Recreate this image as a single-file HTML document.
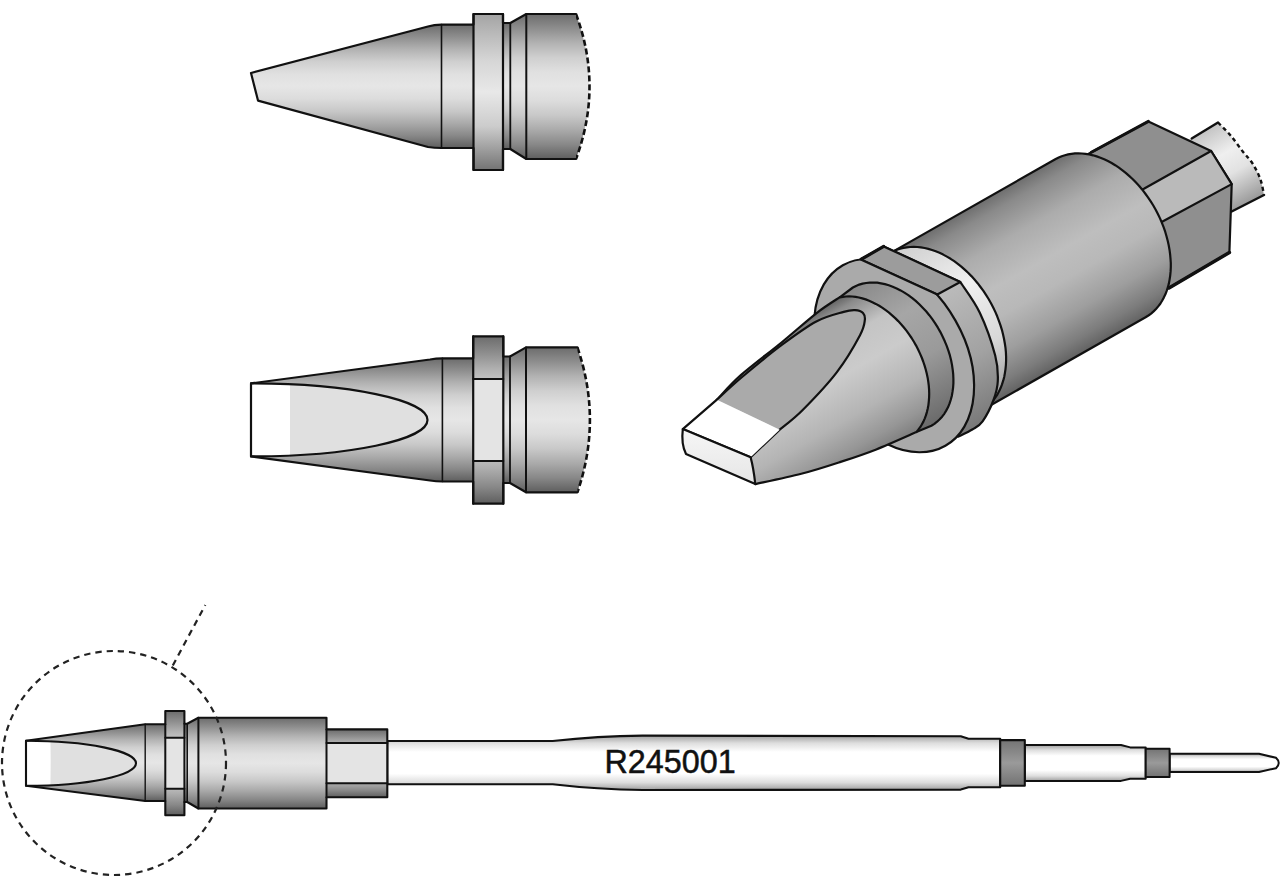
<!DOCTYPE html>
<html><head><meta charset="utf-8"><style>html,body{margin:0;padding:0;background:#fff;overflow:hidden}svg{display:block}</style></head>
<body><svg width="1280" height="877" viewBox="0 0 1280 877"><defs>
<linearGradient id="cyl" x1="0" y1="0" x2="0" y2="1">
 <stop offset="0" stop-color="#6c6c6c"/><stop offset="0.1" stop-color="#8e8e8e"/>
 <stop offset="0.2" stop-color="#b2b2b2"/><stop offset="0.3" stop-color="#cfcfcf"/>
 <stop offset="0.4" stop-color="#e0e0e0"/><stop offset="0.5" stop-color="#e6e6e6"/>
 <stop offset="0.6" stop-color="#dcdcdc"/><stop offset="0.7" stop-color="#c8c8c8"/>
 <stop offset="0.8" stop-color="#aaaaaa"/><stop offset="0.9" stop-color="#888888"/>
 <stop offset="1" stop-color="#5e5e5e"/></linearGradient>
<linearGradient id="fla" x1="0" y1="0" x2="0" y2="1">
 <stop offset="0" stop-color="#a4a4a4"/><stop offset="0.3" stop-color="#d6d6d6"/>
 <stop offset="0.5" stop-color="#e8e8e8"/><stop offset="0.72" stop-color="#cccccc"/>
 <stop offset="1" stop-color="#747474"/></linearGradient>
<linearGradient id="shaft" x1="0" y1="0" x2="0" y2="1">
 <stop offset="0" stop-color="#a0a0a0"/><stop offset="0.14" stop-color="#dedede"/>
 <stop offset="0.3" stop-color="#fff"/><stop offset="0.7" stop-color="#fff"/>
 <stop offset="0.86" stop-color="#dedede"/><stop offset="1" stop-color="#a0a0a0"/></linearGradient>
<linearGradient id="band" x1="0" y1="0" x2="0" y2="1">
 <stop offset="0" stop-color="#747474"/><stop offset="0.5" stop-color="#9a9a9a"/>
 <stop offset="1" stop-color="#727272"/></linearGradient>
<linearGradient id="g_rs" gradientUnits="userSpaceOnUse" x1="1202.2" y1="132.2" x2="1243.7" y2="205.2"><stop offset="0" stop-color="#c4c4c4"/><stop offset="0.35" stop-color="#efefef"/><stop offset="0.6" stop-color="#e2e2e2"/><stop offset="1" stop-color="#9a9a9a"/></linearGradient><linearGradient id="g_sl" gradientUnits="userSpaceOnUse" x1="978" y1="203.2" x2="1067.9" y2="361.4"><stop offset="0" stop-color="#6e6e6e"/><stop offset="0.08" stop-color="#8a8a8a"/><stop offset="0.25" stop-color="#acacac"/><stop offset="0.45" stop-color="#bebebe"/><stop offset="0.6" stop-color="#b8b8b8"/><stop offset="0.78" stop-color="#9e9e9e"/><stop offset="0.92" stop-color="#7c7c7c"/><stop offset="1" stop-color="#626262"/></linearGradient><linearGradient id="g_wa" gradientUnits="userSpaceOnUse" x1="891.1" y1="252.6" x2="980.9" y2="410.8"><stop offset="0" stop-color="#cfcfcf"/><stop offset="0.35" stop-color="#f0f0f0"/><stop offset="0.7" stop-color="#d8d8d8"/><stop offset="1" stop-color="#9a9a9a"/></linearGradient><linearGradient id="g_nut" gradientUnits="userSpaceOnUse" x1="860.5" y1="259.6" x2="959.3" y2="433.5"><stop offset="0" stop-color="#c4c4c4"/><stop offset="0.35" stop-color="#bababa"/><stop offset="0.7" stop-color="#a2a2a2"/><stop offset="1" stop-color="#7a7a7a"/></linearGradient><clipPath id="cl_fl"><polygon points="700,185.9 1100,369 1100,600 700,600"/></clipPath><linearGradient id="g_col" gradientUnits="userSpaceOnUse" x1="844.6" y1="292.2" x2="923.1" y2="430.5"><stop offset="0" stop-color="#8a8a8a"/><stop offset="0.3" stop-color="#a6a6a6"/><stop offset="0.6" stop-color="#9a9a9a"/><stop offset="1" stop-color="#6a6a6a"/></linearGradient><linearGradient id="g_cone" gradientUnits="userSpaceOnUse" x1="766.1" y1="336.2" x2="845.1" y2="475.4"><stop offset="0" stop-color="#5a5a5a"/><stop offset="0.08" stop-color="#8c8c8c"/><stop offset="0.25" stop-color="#c4c4c4"/><stop offset="0.45" stop-color="#cbcbcb"/><stop offset="0.7" stop-color="#b4b4b4"/><stop offset="0.88" stop-color="#969696"/><stop offset="1" stop-color="#7a7a7a"/></linearGradient><linearGradient id="g_ff" x1="0" y1="0" x2="0" y2="1"><stop offset="0" stop-color="#f6f6f6"/><stop offset="1" stop-color="#e6e6e6"/></linearGradient></defs>
<rect width="1280" height="877" fill="#fff"/>
<path d="M251,73 L428,26.5 Q434,24.8 441.5,24.6 L441.5,148 Q434,147.8 428,147 L258,100.6 Z" fill="url(#cyl)" stroke="none" />
<path d="M441.5,24.6 L473.5,24.6 L473.5,148 L441.5,148 Z" fill="url(#cyl)" stroke="none" />
<path d="M556,14 L576,14 Q603,86.5 576,159 L556,159 Z" fill="url(#cyl)" stroke="none" />
<path d="M576,14 Q603,86.5 576,159" fill="none" stroke="#111" stroke-linejoin="round" stroke-linecap="butt" stroke-width="2.6" stroke-dasharray="6 3"/>
<path d="M526.3,14 L576,14 L576,159 L526.3,159 Z" fill="url(#cyl)" stroke="none" />
<path d="M510.3,23 L526.3,14 L526.3,159 L510.3,149 Z" fill="url(#cyl)" stroke="none" />
<path d="M503,23 L510.3,23 L510.3,149 L503,149 Z" fill="url(#cyl)" stroke="none" />
<path d="M473.5,14 L503,14 L503,170 L473.5,170 Z" fill="url(#fla)" stroke="none" />
<path d="M576,14 L526.3,14 L510.3,23 L503,23 L503,14 L473.5,14 L473.5,24.6 L441.5,24.6 Q434,24.8 428,26.5 L251,73 L258,100.6 L428,147 Q434,147.8 441.5,148 L473.5,148 L473.5,170 L503,170 L503,149 L510.3,149 L526.3,159 L576,159" fill="none" stroke="#111" stroke-linejoin="round" stroke-linecap="round" stroke-width="2.2" />
<path d="M441.5,24.6 L441.5,148" fill="none" stroke="#111" stroke-linejoin="round" stroke-linecap="round" stroke-width="1.6" />
<path d="M473.5,14 L473.5,170" fill="none" stroke="#111" stroke-linejoin="round" stroke-linecap="round" stroke-width="2.2" />
<path d="M503,14 L503,170" fill="none" stroke="#111" stroke-linejoin="round" stroke-linecap="round" stroke-width="2.2" />
<path d="M510.3,23 L510.3,149" fill="none" stroke="#111" stroke-linejoin="round" stroke-linecap="round" stroke-width="1.8" />
<path d="M526.3,14 L526.3,159" fill="none" stroke="#111" stroke-linejoin="round" stroke-linecap="round" stroke-width="2" />
<path d="M251,383.4 L430,359.5 Q436,358.4 442.4,358.3 L442.4,481.5 Q436,481.4 430,480.5 L251,456.4 Z" fill="url(#cyl)" stroke="none" />
<path d="M251,383.4 L290,383.4 L290,456.4 L251,456.4 Z" fill="#fff" stroke="none" />
<path d="M290,383.4 L290,456.4 L251,456.4 A176.5,36.5 0 0 0 427.5,419.9 A176.5,36.5 0 0 0 251,383.4 Z" fill="#e0e0e0" stroke="none" />
<path d="M251,456.4 A176.5,36.5 0 0 0 427.5,419.9 A176.5,36.5 0 0 0 251,383.4" fill="none" stroke="#111" stroke-linejoin="round" stroke-linecap="round" stroke-width="2.2" />
<path d="M442.4,358.3 L473.2,358.3 L473.2,481.5 L442.4,481.5 Z" fill="url(#cyl)" stroke="none" />
<path d="M557.4,347.4 L577.4,347.4 Q602.4,419.9 577.4,492.3 L557.4,492.3 Z" fill="url(#cyl)" stroke="none" />
<path d="M577.4,347.4 Q602.4,419.9 577.4,492.3" fill="none" stroke="#111" stroke-linejoin="round" stroke-linecap="butt" stroke-width="2.6" stroke-dasharray="6 3"/>
<path d="M526,347.4 L577.4,347.4 L577.4,492.3 L526,492.3 Z" fill="url(#cyl)" stroke="none" />
<path d="M510,356.5 L526,347.4 L526,492.3 L510,483 Z" fill="url(#cyl)" stroke="none" />
<path d="M503.3,356.5 L510,356.5 L510,483 L503.3,483 Z" fill="url(#cyl)" stroke="none" />
<path d="M473.2,336.4 L503.3,336.4 L503.3,503.7 L473.2,503.7 Z" fill="url(#cyl)" stroke="none" />
<path d="M473.2,378.9 L503.3,378.9 L503.3,461 L473.2,461 Z" fill="#e4e4e4" stroke="none" />
<path d="M577.4,347.4 L526,347.4 L510,356.5 L503.3,356.5 L503.3,336.4 L473.2,336.4 L473.2,358.3 L442.4,358.3 Q436,358.4 430,359.5 L251,383.4 L251,456.4 L430,480.5 Q436,481.4 442.4,481.5 L473.2,481.5 L473.2,503.7 L503.3,503.7 L503.3,483 L510,483 L526,492.3 L577.4,492.3" fill="none" stroke="#111" stroke-linejoin="round" stroke-linecap="round" stroke-width="2.2" />
<path d="M442.4,358.3 L442.4,481.5" fill="none" stroke="#111" stroke-linejoin="round" stroke-linecap="round" stroke-width="1.6" />
<path d="M473.2,336.4 L473.2,503.7" fill="none" stroke="#111" stroke-linejoin="round" stroke-linecap="round" stroke-width="2.2" />
<path d="M503.3,336.4 L503.3,503.7" fill="none" stroke="#111" stroke-linejoin="round" stroke-linecap="round" stroke-width="2.2" />
<path d="M510,356.5 L510,483" fill="none" stroke="#111" stroke-linejoin="round" stroke-linecap="round" stroke-width="1.8" />
<path d="M526,347.4 L526,492.3" fill="none" stroke="#111" stroke-linejoin="round" stroke-linecap="round" stroke-width="2" />
<path d="M473.2,378.9 L503.3,378.9" fill="none" stroke="#111" stroke-linejoin="round" stroke-linecap="round" stroke-width="2" />
<path d="M473.2,461 L503.3,461" fill="none" stroke="#111" stroke-linejoin="round" stroke-linecap="round" stroke-width="2" />
<path d="M387.3,741 L552.7,741 Q598,736 642.5,735.6 L960.8,736.2 L968.5,738.7 L1000.2,738.7 L1000.2,787.2 L968.5,787.2 L960.8,789.6 L642.5,790 Q598,789.6 552.7,784.3 L387.3,784.3 Z" fill="url(#shaft)" stroke="#111" stroke-linejoin="round" stroke-linecap="round" stroke-width="2.1" />
<path d="M1024.8,745 L1121,745 L1130.2,747.4 L1145.7,747.4 L1145.7,778.8 L1130.2,778.8 L1121,780.9 L1024.8,780.9 Z" fill="url(#shaft)" stroke="#111" stroke-linejoin="round" stroke-linecap="round" stroke-width="2" />
<rect x="1000.2" y="740.1" width="24.6" height="45.7" fill="url(#band)" stroke="#111" stroke-linejoin="round" stroke-linecap="round" stroke-width="2.1"/>
<path d="M1169.6,753.8 L1259,753.8 L1276,757.8 Q1281.5,763 1276,768.2 L1259,772 L1169.6,772 Z" fill="url(#shaft)" stroke="#111" stroke-linejoin="round" stroke-linecap="round" stroke-width="2" />
<rect x="1145.7" y="748.8" width="23.9" height="28.2" fill="url(#band)" stroke="#111" stroke-linejoin="round" stroke-linecap="round" stroke-width="2"/>
<text x="604.5" y="773" font-family="Liberation Sans, sans-serif" font-size="32.3" fill="#111" stroke="#111" stroke-width="0.5">R245001</text>
<path d="M326.5,729.4 L387.3,729.4 L387.3,797.3 L326.5,797.3 Z" fill="url(#cyl)" stroke="none" />
<path d="M326.5,742.9 L387.3,742.9 L387.3,783.2 L326.5,783.2 Z" fill="#e4e4e4" stroke="none" />
<path d="M198.4,717.8 L326.5,717.8 L326.5,808.5 L198.4,808.5 Z" fill="url(#cyl)" stroke="none" />
<path d="M187.2,723.8 L198.4,717.8 L198.4,808.5 L187.2,802 Z" fill="url(#cyl)" stroke="none" />
<path d="M184.4,723.8 L187.2,723.8 L187.2,802 L184.4,802 Z" fill="url(#cyl)" stroke="none" />
<path d="M26,740.8 L145.2,724.3 L145.2,801 L26,785.8 Z" fill="url(#cyl)" stroke="none" />
<path d="M26,740.8 L50.8,740.8 L50.8,785.8 L26,785.8 Z" fill="#fff" stroke="none" />
<path d="M50.8,740.8 L50.8,785.8 L26,785.8 A110,22.5 0 0 0 136,763.3 A110,22.5 0 0 0 26,740.8 Z" fill="#e0e0e0" stroke="none" />
<path d="M145.2,724.3 L165.3,724.3 L165.3,801 L145.2,801 Z" fill="url(#cyl)" stroke="none" />
<path d="M165.3,711 L184.4,711 L184.4,815.3 L165.3,815.3 Z" fill="url(#cyl)" stroke="none" />
<path d="M165.3,737.8 L184.4,737.8 L184.4,788.8 L165.3,788.8 Z" fill="#e4e4e4" stroke="none" />
<path d="M387.3,729.4 L326.5,729.4 L326.5,717.8 L198.4,717.8 L187.2,723.8 L184.4,723.8 L184.4,711 L165.3,711 L165.3,724.3 L145.2,724.3 L26,740.8 L26,785.8 L145.2,801 L165.3,801 L165.3,815.3 L184.4,815.3 L184.4,802 L187.2,802 L198.4,808.5 L326.5,808.5 L326.5,797.3 L387.3,797.3 Z" fill="none" stroke="#111" stroke-linejoin="round" stroke-linecap="round" stroke-width="2.1" />
<path d="M26,785.8 A110,22.5 0 0 0 136,763.3 A110,22.5 0 0 0 26,740.8" fill="none" stroke="#111" stroke-linejoin="round" stroke-linecap="round" stroke-width="2.1" />
<path d="M145.2,724.3 L145.2,801" fill="none" stroke="#111" stroke-linejoin="round" stroke-linecap="round" stroke-width="1.4" />
<path d="M165.3,724.3 L165.3,801" fill="none" stroke="#111" stroke-linejoin="round" stroke-linecap="round" stroke-width="2" />
<path d="M184.4,723.8 L184.4,802" fill="none" stroke="#111" stroke-linejoin="round" stroke-linecap="round" stroke-width="2" />
<path d="M187.2,723.8 L187.2,802" fill="none" stroke="#111" stroke-linejoin="round" stroke-linecap="round" stroke-width="1.6" />
<path d="M198.4,717.8 L198.4,808.5" fill="none" stroke="#111" stroke-linejoin="round" stroke-linecap="round" stroke-width="2" />
<path d="M326.5,729.4 L326.5,797.3" fill="none" stroke="#111" stroke-linejoin="round" stroke-linecap="round" stroke-width="2" />
<path d="M165.3,737.8 L184.4,737.8" fill="none" stroke="#111" stroke-linejoin="round" stroke-linecap="round" stroke-width="2" />
<path d="M165.3,788.8 L184.4,788.8" fill="none" stroke="#111" stroke-linejoin="round" stroke-linecap="round" stroke-width="2" />
<path d="M326.5,742.9 L387.3,742.9" fill="none" stroke="#111" stroke-linejoin="round" stroke-linecap="round" stroke-width="2" />
<path d="M326.5,783.2 L387.3,783.2" fill="none" stroke="#111" stroke-linejoin="round" stroke-linecap="round" stroke-width="2" />
<circle cx="114" cy="763" r="112" fill="none" stroke="#222" stroke-width="2.2" stroke-dasharray="6.3 5"/>
<line x1="172.8" y1="665.5" x2="205.3" y2="605" stroke="#222" stroke-width="2.2" stroke-dasharray="6.3 5"/>
<path d="M1150,160 L1191.7,138.5 L1218,122.5 C1220,124.6 1226.1,130.2 1230.2,135 C1234.3,139.8 1238.9,146.6 1242.7,151.4 C1246.5,156.2 1249.9,159.3 1252.8,163.9 C1255.7,168.5 1258.4,173.8 1260.3,179 C1262.2,184.2 1263.4,192.3 1264,195 L1231.7,211.5 L1180,240 Z" fill="url(#g_rs)" stroke="none" />
<path d="M1191.7,138.5 L1218,122.5" fill="none" stroke="#111" stroke-linejoin="round" stroke-linecap="round" stroke-width="2.4" />
<path d="M1264,195 L1231.7,211.5" fill="none" stroke="#111" stroke-linejoin="round" stroke-linecap="round" stroke-width="2.4" />
<path d="M1218,122.5 C1220,124.6 1226.1,130.2 1230.2,135 C1234.3,139.8 1238.9,146.6 1242.7,151.4 C1246.5,156.2 1249.9,159.3 1252.8,163.9 C1255.7,168.5 1258.4,173.8 1260.3,179 C1262.2,184.2 1263.4,192.3 1264,195 " fill="none" stroke="#111" stroke-linejoin="round" stroke-linecap="butt" stroke-width="2.4" stroke-dasharray="4 3.2"/>
<polygon points="1060,170 1091.4,152.2 1148.4,121.4 1211.1,151 1231.7,184.1 1229.4,252.5 1169,288 1080,300" fill="#8f8f8f" stroke="#111" stroke-linejoin="round" stroke-linecap="round" stroke-width="2.2" />
<polygon points="1211.1,151 1231.7,184.1 1162.1,221.7 1100,256 1080,220 1143.9,188.7" fill="#bababa" stroke="#111" stroke-linejoin="round" stroke-linecap="round" stroke-width="2.2" />
<path d="M1229.4,252.5 L1169,288" fill="none" stroke="#111" stroke-linejoin="round" stroke-linecap="round" stroke-width="3.5" />
<path d="M1091.4,152.2 L1148.4,121.4" fill="none" stroke="#111" stroke-linejoin="round" stroke-linecap="round" stroke-width="3" />
<path d="M891.1,252.6 L1055.7,159 L1058.7,157.5 L1061.7,156.2 L1064.9,155.2 L1068.1,154.4 L1071.5,153.8 L1074.9,153.4 L1078.4,153.3 L1082,153.5 L1085.6,153.8 L1089.3,154.5 L1093,155.3 L1096.7,156.4 L1100.4,157.7 L1104.2,159.3 L1107.9,161 L1111.6,163 L1115.2,165.2 L1118.9,167.7 L1122.5,170.3 L1126,173.1 L1129.4,176.1 L1132.8,179.2 L1136,182.6 L1139.2,186 L1142.3,189.7 L1145.2,193.5 L1148,197.4 L1150.7,201.4 L1153.3,205.5 L1155.7,209.7 L1157.9,214 L1160,218.4 L1161.9,222.8 L1163.6,227.2 L1165.2,231.7 L1166.5,236.2 L1167.7,240.8 L1168.7,245.3 L1169.5,249.7 L1170.1,254.2 L1170.5,258.6 L1170.8,263 L1170.8,267.2 L1170.6,271.4 L1170.2,275.6 L1169.6,279.6 L1168.9,283.4 L1167.9,287.2 L1166.7,290.8 L1165.4,294.3 L1163.8,297.6 L1162.1,300.7 L1160.3,303.7 L1158.2,306.4 L1156,309 L1153.6,311.4 L1151.1,313.6 L1148.4,315.5 L1145.6,317.3 L980.9,410.8 L978,412.3 L975,413.6 L971.8,414.7 L968.6,415.5 L965.2,416.1 L961.8,416.4 L958.3,416.5 L954.7,416.4 L951.1,416 L947.4,415.4 L943.7,414.5 L940,413.4 L936.3,412.1 L932.5,410.6 L928.8,408.8 L925.1,406.8 L921.4,404.6 L917.8,402.2 L914.2,399.6 L910.7,396.8 L907.3,393.8 L903.9,390.6 L900.6,387.3 L897.5,383.8 L894.4,380.2 L891.5,376.4 L888.6,372.5 L886,368.5 L883.4,364.4 L881,360.1 L878.8,355.9 L876.7,351.5 L874.8,347.1 L873.1,342.6 L871.5,338.1 L870.1,333.6 L869,329.1 L868,324.6 L867.2,320.1 L866.5,315.6 L866.1,311.2 L865.9,306.9 L865.9,302.6 L866.1,298.4 L866.5,294.3 L867.1,290.3 L867.8,286.4 L868.8,282.7 L870,279 L871.3,275.6 L872.8,272.3 L874.5,269.1 L876.4,266.2 L878.5,263.4 L880.7,260.8 L883.1,258.4 L885.6,256.3 L888.3,254.3 L891.1,252.6 Z" fill="url(#g_sl)" stroke="none" />
<path d="M891.1,252.6 L1055.7,159 L1055.7,159 L1058.7,157.5 L1061.7,156.2 L1064.9,155.2 L1068.1,154.4 L1071.5,153.8 L1074.9,153.4 L1078.4,153.3 L1082,153.5 L1085.6,153.8 L1089.3,154.5 L1093,155.3 L1096.7,156.4 L1100.4,157.7 L1104.2,159.3 L1107.9,161 L1111.6,163 L1115.2,165.2 L1118.9,167.7 L1122.5,170.3 L1126,173.1 L1129.4,176.1 L1132.8,179.2 L1136,182.6 L1139.2,186 L1142.3,189.7 L1145.2,193.5 L1148,197.4 L1150.7,201.4 L1153.3,205.5 L1155.7,209.7 L1157.9,214 L1160,218.4 L1161.9,222.8 L1163.6,227.2 L1165.2,231.7 L1166.5,236.2 L1167.7,240.8 L1168.7,245.3 L1169.5,249.7 L1170.1,254.2 L1170.5,258.6 L1170.8,263 L1170.8,267.2 L1170.6,271.4 L1170.2,275.6 L1169.6,279.6 L1168.9,283.4 L1167.9,287.2 L1166.7,290.8 L1165.4,294.3 L1163.8,297.6 L1162.1,300.7 L1160.3,303.7 L1158.2,306.4 L1156,309 L1153.6,311.4 L1151.1,313.6 L1148.4,315.5 L1145.6,317.3 L980.9,410.8" fill="none" stroke="#111" stroke-linejoin="round" stroke-linecap="round" stroke-width="2.2" />
<path d="M878.9,259.5 L891.1,252.6 L894,251.1 L897,249.8 L900.2,248.7 L903.4,247.9 L906.8,247.3 L910.2,247 L913.7,246.9 L917.3,247 L920.9,247.4 L924.6,248 L928.3,248.9 L932,250 L935.7,251.3 L939.5,252.8 L943.2,254.6 L946.9,256.6 L950.6,258.8 L954.2,261.2 L957.8,263.8 L961.3,266.6 L964.7,269.6 L968.1,272.8 L971.4,276.1 L974.5,279.6 L977.6,283.2 L980.5,287 L983.4,290.9 L986,294.9 L988.6,299 L991,303.3 L993.2,307.5 L995.3,311.9 L997.2,316.3 L998.9,320.8 L1000.5,325.3 L1001.9,329.8 L1003,334.3 L1004,338.8 L1004.8,343.3 L1005.5,347.8 L1005.9,352.2 L1006.1,356.5 L1006.1,360.8 L1005.9,365 L1005.5,369.1 L1004.9,373.1 L1004.2,377 L1003.2,380.7 L1002,384.4 L1000.7,387.8 L999.2,391.1 L997.5,394.3 L995.6,397.2 L993.5,400 L991.3,402.6 L988.9,405 L986.4,407.1 L983.7,409.1 L980.9,410.8 L968.8,417.7 L965.8,419.3 L962.8,420.5 L959.6,421.6 L956.4,422.4 L953,423 L949.6,423.3 L946.1,423.4 L942.5,423.3 L938.9,422.9 L935.2,422.3 L931.5,421.4 L927.8,420.4 L924.1,419 L920.4,417.5 L916.6,415.7 L912.9,413.7 L909.3,411.5 L905.6,409.1 L902.1,406.5 L898.5,403.7 L895.1,400.7 L891.7,397.5 L888.5,394.2 L885.3,390.7 L882.2,387.1 L879.3,383.3 L876.5,379.4 L873.8,375.4 L871.2,371.3 L868.8,367.1 L866.6,362.8 L864.5,358.4 L862.6,354 L860.9,349.5 L859.3,345 L858,340.5 L856.8,336 L855.8,331.5 L855,327 L854.4,322.6 L854,318.1 L853.8,313.8 L853.7,309.5 L853.9,305.3 L854.3,301.2 L854.9,297.2 L855.7,293.3 L856.6,289.6 L857.8,286 L859.1,282.5 L860.7,279.2 L862.4,276.1 L864.3,273.1 L866.3,270.3 L868.5,267.7 L870.9,265.4 L873.4,263.2 L876.1,261.2 L878.9,259.5 Z" fill="url(#g_wa)" stroke="none" />
<path d="M891.1,252.6 L894,251.1 L897,249.8 L900.2,248.7 L903.4,247.9 L906.8,247.3 L910.2,247 L913.7,246.9 L917.3,247 L920.9,247.4 L924.6,248 L928.3,248.9 L932,250 L935.7,251.3 L939.5,252.8 L943.2,254.6 L946.9,256.6 L950.6,258.8 L954.2,261.2 L957.8,263.8 L961.3,266.6 L964.7,269.6 L968.1,272.8 L971.4,276.1 L974.5,279.6 L977.6,283.2 L980.5,287 L983.4,290.9 L986,294.9 L988.6,299 L991,303.3 L993.2,307.5 L995.3,311.9 L997.2,316.3 L998.9,320.8 L1000.5,325.3 L1001.9,329.8 L1003,334.3 L1004,338.8 L1004.8,343.3 L1005.5,347.8 L1005.9,352.2 L1006.1,356.5 L1006.1,360.8 L1005.9,365 L1005.5,369.1 L1004.9,373.1 L1004.2,377 L1003.2,380.7 L1002,384.4 L1000.7,387.8 L999.2,391.1 L997.5,394.3 L995.6,397.2 L993.5,400 L991.3,402.6 L988.9,405 L986.4,407.1 L983.7,409.1 L980.9,410.8" fill="none" stroke="#111" stroke-linejoin="round" stroke-linecap="round" stroke-width="2.2" />
<path d="M860.8,259.5 L883.7,246.4 L960.3,282 C963.5,287.1 974,300.4 979.8,312.7 C985.6,324.9 992.2,344.1 995.2,355.5 C998.2,366.9 998.1,373.6 997.8,381 C997.5,388.4 996,393.3 993.5,400 C991,406.7 986.1,416.4 982.6,421.3 C979.1,426.2 976.4,426.9 972.3,429.5 C968.2,432.1 960.4,435.5 958,436.7  L894,355.5 Z" fill="url(#g_nut)" stroke="#111" stroke-linejoin="round" stroke-linecap="round" stroke-width="2.2" />
<polygon points="860.8,259.5 883.7,246.4 960.3,282 937.3,294.5" fill="#9c9c9c" stroke="#111" stroke-linejoin="round" stroke-linecap="round" stroke-width="2.2" />
<path d="M860.8,259.5 L883.7,246.4" fill="none" stroke="#111" stroke-linejoin="round" stroke-linecap="round" stroke-width="3.2" />
<g clip-path="url(#cl_fl)"><ellipse cx="894.1" cy="355.5" rx="70.6" ry="103.8" transform="rotate(-29.6 894.1 355.5)" fill="#aaaaaa" stroke="#111" stroke-linejoin="round" stroke-linecap="round" stroke-width="2.2"/></g>
<path d="M860.8,259.5 L937.3,294.5" fill="none" stroke="#111" stroke-linejoin="round" stroke-linecap="round" stroke-width="2.2" />
<path d="M839.7,297.3 L852.9,287.5 L856,285.9 L859.2,284.6 L862.6,283.6 L866.1,283 L869.7,282.6 L873.4,282.5 L877.2,282.7 L881,283.3 L884.9,284.1 L888.8,285.2 L892.7,286.7 L896.7,288.4 L900.6,290.4 L904.4,292.6 L908.3,295.1 L912,297.9 L915.7,300.9 L919.3,304.2 L922.7,307.7 L926.1,311.3 L929.3,315.2 L932.3,319.2 L935.2,323.4 L937.9,327.7 L940.4,332.1 L942.7,336.7 L944.8,341.3 L946.7,345.9 L948.4,350.7 L949.9,355.4 L951.1,360.2 L952,364.9 L952.7,369.6 L953.2,374.2 L953.4,378.8 L953.4,383.3 L953.1,387.7 L952.5,391.9 L951.8,396 L950.7,400 L949.5,403.7 L948,407.3 L946.2,410.6 L944.3,413.8 L942.1,416.7 L939.7,419.3 L937.1,421.7 L934.4,423.9 L931.4,425.7 L916.3,432.1 L916.3,432.1 L918.3,429.7 L920.2,427.2 L921.8,424.5 L923.4,421.6 L924.7,418.6 L925.9,415.4 L926.9,412.1 L927.7,408.7 L928.4,405.1 L928.8,401.4 L929.1,397.7 L929.2,393.8 L929.1,389.9 L928.8,385.9 L928.3,381.9 L927.7,377.9 L926.8,373.8 L925.8,369.7 L924.6,365.6 L923.2,361.5 L921.7,357.5 L919.9,353.4 L918.1,349.5 L916.1,345.6 L913.9,341.8 L911.6,338 L909.1,334.4 L906.6,330.9 L903.9,327.5 L901.1,324.2 L898.2,321.1 L895.2,318.1 L892.1,315.3 L889,312.6 L885.7,310.2 L882.5,307.9 L879.2,305.8 L875.8,303.9 L872.4,302.2 L869.1,300.7 L865.7,299.4 L862.3,298.4 L858.9,297.5 L855.6,296.9 L852.3,296.5 L849.1,296.4 L845.9,296.5 L842.8,296.8 L839.7,297.3 Z" fill="url(#g_col)" stroke="none" />
<path d="M839.7,297.3 L852.9,287.5 L856,285.9 L859.2,284.6 L862.6,283.6 L866.1,283 L869.7,282.6 L873.4,282.5 L877.2,282.7 L881,283.3 L884.9,284.1 L888.8,285.2 L892.7,286.7 L896.7,288.4 L900.6,290.4 L904.4,292.6 L908.3,295.1 L912,297.9 L915.7,300.9 L919.3,304.2 L922.7,307.7 L926.1,311.3 L929.3,315.2 L932.3,319.2 L935.2,323.4 L937.9,327.7 L940.4,332.1 L942.7,336.7 L944.8,341.3 L946.7,345.9 L948.4,350.7 L949.9,355.4 L951.1,360.2 L952,364.9 L952.7,369.6 L953.2,374.2 L953.4,378.8 L953.4,383.3 L953.1,387.7 L952.5,391.9 L951.8,396 L950.7,400 L949.5,403.7 L948,407.3 L946.2,410.6 L944.3,413.8 L942.1,416.7 L939.7,419.3 L937.1,421.7 L934.4,423.9 L931.4,425.7 L916.3,432.1" fill="none" stroke="#111" stroke-linejoin="round" stroke-linecap="round" stroke-width="2.2" />
<path d="M716.9,399.7 C720.9,395.6 730.2,384.5 741.1,374.9 C752,365.3 769.6,352.3 782.1,342 C794.6,331.7 806.7,320.8 816.3,313.3 C825.9,305.8 835.8,299.9 839.7,297.3  L842.8,296.8 L845.9,296.5 L849.1,296.4 L852.3,296.5 L855.6,296.9 L858.9,297.5 L862.3,298.4 L865.7,299.4 L869.1,300.7 L872.4,302.2 L875.8,303.9 L879.2,305.8 L882.5,307.9 L885.7,310.2 L889,312.6 L892.1,315.3 L895.2,318.1 L898.2,321.1 L901.1,324.2 L903.9,327.5 L906.6,330.9 L909.1,334.4 L911.6,338 L913.9,341.8 L916.1,345.6 L918.1,349.5 L919.9,353.4 L921.7,357.5 L923.2,361.5 L924.6,365.6 L925.8,369.7 L926.8,373.8 L927.7,377.9 L928.3,381.9 L928.8,385.9 L929.1,389.9 L929.2,393.8 L929.1,397.7 L928.8,401.4 L928.4,405.1 L927.7,408.7 L926.9,412.1 L925.9,415.4 L924.7,418.6 L923.4,421.6 L921.8,424.5 L920.2,427.2 L918.3,429.7 L916.3,432.1C909.6,435 889.2,444.3 876.3,449.4 C863.4,454.5 851.3,458.4 838.8,462.5 C826.3,466.6 815.2,470.2 801.3,473.8 C787.4,477.4 763,482.4 755.3,484.1  L750.6,457.3 L682.8,429.1 L716.9,399.7 Z" fill="url(#g_cone)" stroke="none" />
<path d="M716.9,399.7 C720.9,395.6 730.2,384.5 741.1,374.9 C752,365.3 769.6,352.3 782.1,342 C794.6,331.7 806.7,320.8 816.3,313.3 C825.9,305.8 835.8,299.9 839.7,297.3  L842.8,296.8 L845.9,296.5 L849.1,296.4 L852.3,296.5 L855.6,296.9 L858.9,297.5 L862.3,298.4 L865.7,299.4 L869.1,300.7 L872.4,302.2 L875.8,303.9 L879.2,305.8 L882.5,307.9 L885.7,310.2 L889,312.6 L892.1,315.3 L895.2,318.1 L898.2,321.1 L901.1,324.2 L903.9,327.5 L906.6,330.9 L909.1,334.4 L911.6,338 L913.9,341.8 L916.1,345.6 L918.1,349.5 L919.9,353.4 L921.7,357.5 L923.2,361.5 L924.6,365.6 L925.8,369.7 L926.8,373.8 L927.7,377.9 L928.3,381.9 L928.8,385.9 L929.1,389.9 L929.2,393.8 L929.1,397.7 L928.8,401.4 L928.4,405.1 L927.7,408.7 L926.9,412.1 L925.9,415.4 L924.7,418.6 L923.4,421.6 L921.8,424.5 L920.2,427.2 L918.3,429.7 L916.3,432.1C909.6,435 889.2,444.3 876.3,449.4 C863.4,454.5 851.3,458.4 838.8,462.5 C826.3,466.6 815.2,470.2 801.3,473.8 C787.4,477.4 763,482.4 755.3,484.1 " fill="none" stroke="#111" stroke-linejoin="round" stroke-linecap="round" stroke-width="2.2" />
<path d="M716.9,399.7 C721,396 730.6,386.7 741.5,377.5 C752.4,368.3 769.6,354 782.1,344.7 C794.6,335.4 806,327 816.3,321.5 C826.6,316 837.2,313.8 843.7,311.9 C850.2,310 851.8,310 855,310.2 C858.2,310.4 861.4,311.3 863,313 C864.6,314.7 865.3,316.5 864.8,320.2 C864.3,323.9 864.6,326.5 860,335.2 C855.4,343.9 846.4,359.6 836.9,372.1 C827.4,384.6 812.2,400.4 802.7,410 C793.2,419.6 783.5,426.4 779.7,429.7  Z" fill="#aaaaaa" stroke="none" />
<path d="M716.9,399.7 C721,396 730.6,386.7 741.5,377.5 C752.4,368.3 769.6,354 782.1,344.7 C794.6,335.4 806,327 816.3,321.5 C826.6,316 837.2,313.8 843.7,311.9 C850.2,310 851.8,310 855,310.2 C858.2,310.4 861.4,311.3 863,313 C864.6,314.7 865.3,316.5 864.8,320.2 C864.3,323.9 864.6,326.5 860,335.2 C855.4,343.9 846.4,359.6 836.9,372.1 C827.4,384.6 812.2,400.4 802.7,410 C793.2,419.6 783.5,426.4 779.7,429.7  L750.6,457.3" fill="none" stroke="#111" stroke-linejoin="round" stroke-linecap="round" stroke-width="2.2" />
<path d="M682.8,429.1 L716.9,399.7 L779.7,429.7 L750.6,457.3 Z" fill="#ffffff" stroke="none" />
<path d="M750.6,457.3 L682.8,429.1 L716.9,399.7" fill="none" stroke="#111" stroke-linejoin="round" stroke-linecap="round" stroke-width="2.2" />
<path d="M682.8,429.1 L750.6,457.3 Q753.5,468 755.3,484.1 L686,454.1 Q681,444 682.8,429.1 Z" fill="url(#g_ff)" stroke="#111" stroke-linejoin="round" stroke-linecap="round" stroke-width="2.2" />
</svg></body></html>
